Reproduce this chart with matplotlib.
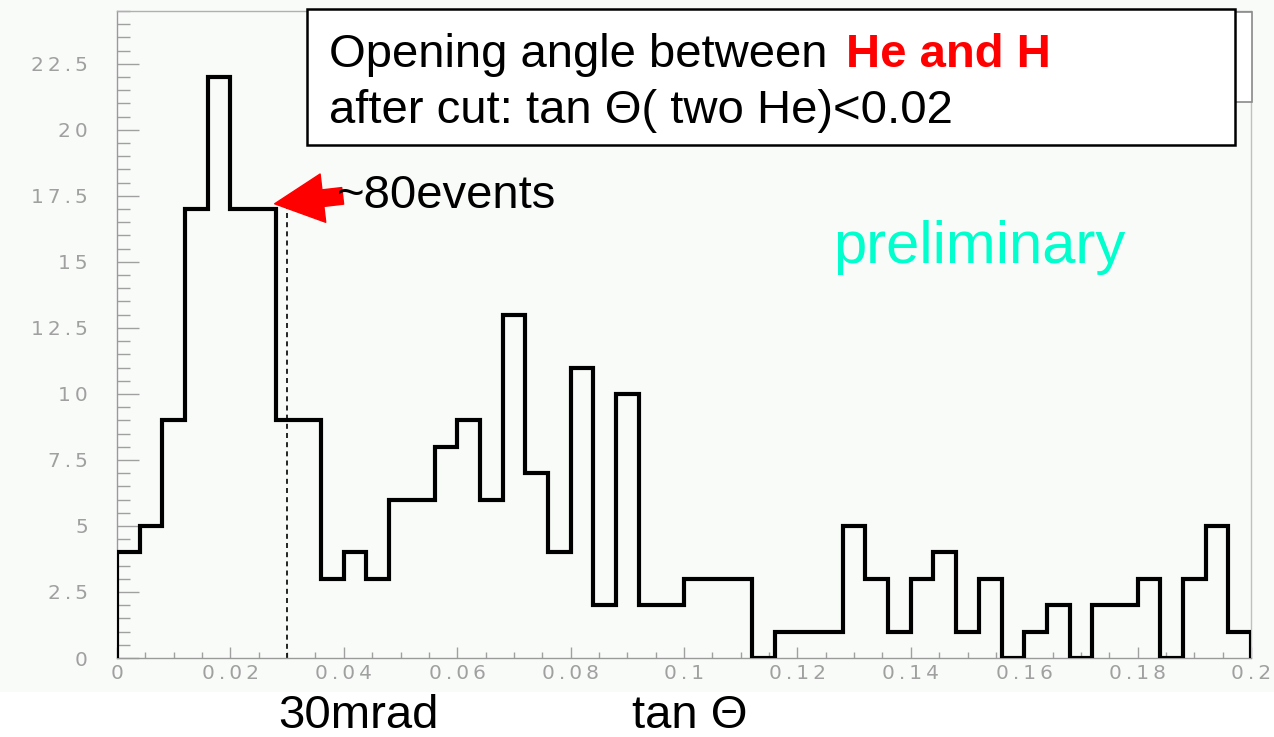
import numpy as np
import matplotlib
matplotlib.use("Agg")
import matplotlib.pyplot as plt
from matplotlib.patches import Rectangle, FancyArrowPatch, ArrowStyle
from matplotlib.ticker import MultipleLocator, FuncFormatter

W, H = 1274, 737          # canvas size in pixels
DPI = 100

# tan(theta) histogram: 50 bins over [0, 0.2]
x_lo, x_hi, n_bins = 0.0, 0.2, 50
counts = [4, 5, 9, 17, 22, 17, 17, 9, 9, 3,
          4, 3, 6, 6, 8, 9, 6, 13, 7, 4,
          11, 2, 10, 2, 2, 3, 3, 3, 0, 1,
          1, 1, 5, 3, 1, 3, 4, 1, 3, 0,
          1, 2, 0, 2, 2, 3, 0, 3, 5, 1]

# 30 mrad cut marker and the arrow pointing at it
cut_x, cut_top = 0.03, 17.2
arrow_tip = (0.0278, 17.2)
arrow_tail = (0.0398, 17.5)

title_black = "Opening angle between "
title_red = "He and H"
cut_text = "after cut: tan \u0398( two He)<0.02"
events_text = "~80events"
prelim_text = "preliminary"

FONT = ["Liberation Sans", "DejaVu Sans"]
TICK_GRAY = "#a0a0a0"


def px(x, y):
    """pixel position (from top-left) -> figure fraction"""
    return x / W, 1 - y / H


def spaced(v, pos):
    # ROOT style labels: loose letter spacing
    s = f"{v:g}"
    return "\u2009".join(s)


fig = plt.figure(figsize=(W / DPI, H / DPI), dpi=DPI, facecolor="white")
# pad canvas is a touch greyer than the page below it
fig.add_artist(Rectangle(px(0, 692), 1, 692 / H, transform=fig.transFigure,
                         facecolor="#f9fbf9", edgecolor="none", zorder=0))

l, r = 117, 1251
t, b = 11, 658
ax = fig.add_axes([l / W, 1 - b / H, (r - l) / W, (b - t) / H])
ax.set_facecolor("#f9fbf9")

edges = np.linspace(x_lo, x_hi, n_bins + 1)
ax.stairs(counts, edges, baseline=0, color="black", lw=3.0, zorder=3,
          joinstyle="miter")

ax.vlines(cut_x, 0, cut_top, colors="black", linestyles=(0, (3, 2.5)), lw=1.2, zorder=2)

arr = FancyArrowPatch(arrow_tail, arrow_tip,
                      arrowstyle=ArrowStyle.Simple(head_length=35, head_width=35, tail_width=12),
                      mutation_scale=1, color="red", shrinkA=0, shrinkB=0, zorder=5)
ax.add_patch(arr)

ax.set_xlim(x_lo, x_hi)
ax.set_ylim(0, 24.5)

for side in ("left", "bottom", "top", "right"):
    ax.spines[side].set_color("#9a9a9a")
    ax.spines[side].set_linewidth(1.0)
ax.spines["top"].set_color("#b0b0b0")
ax.spines["right"].set_color("#c0c0c0")

ax.xaxis.set_major_locator(MultipleLocator(0.02))
ax.xaxis.set_minor_locator(MultipleLocator(0.005))
ax.yaxis.set_major_locator(MultipleLocator(2.5))
ax.yaxis.set_minor_locator(MultipleLocator(0.5))
ax.xaxis.set_major_formatter(FuncFormatter(spaced))
ax.yaxis.set_major_formatter(FuncFormatter(spaced))

ax.tick_params(axis="x", which="major", direction="in", length=8, width=1,
               color=TICK_GRAY, labelcolor=TICK_GRAY, labelsize=14.5, pad=4)
ax.tick_params(axis="x", which="minor", direction="in", length=4.5, width=1, color=TICK_GRAY)
ax.tick_params(axis="y", which="major", direction="in", length=16, width=1,
               color=TICK_GRAY, labelcolor=TICK_GRAY, labelsize=14.5, pad=21)
ax.tick_params(axis="y", which="minor", direction="in", length=9, width=1, color=TICK_GRAY)
for lab in ax.get_xticklabels() + ax.get_yticklabels():
    lab.set_family("DejaVu Sans")

# stat box peeking out behind the caption
fig.add_artist(Rectangle(px(1000, 102), 252 / W, 90 / H, transform=fig.transFigure,
                         facecolor="white", edgecolor="#8a8a8a", lw=1.2, zorder=6))
# caption box
fig.add_artist(Rectangle(px(307, 145), 928 / W, 136 / H, transform=fig.transFigure,
                         facecolor="white", edgecolor="black", lw=1.8, zorder=7))

fs = 34
fig.text(*px(329, 67), title_black, fontsize=fs, family=FONT, va="baseline", zorder=8)
fig.text(*px(846, 67), title_red, fontsize=fs, family=FONT, weight="bold",
         color="#ff0000", va="baseline", zorder=8)
fig.text(*px(329, 123), cut_text, fontsize=fs, family=FONT, va="baseline", zorder=8)

fig.text(*px(337, 208), events_text, fontsize=fs, family=FONT, va="baseline", zorder=8)
fig.text(*px(833, 263), prelim_text, fontsize=43, family=FONT, color="#00ffcc",
         va="baseline", zorder=8)

fig.text(*px(278, 728), "30mrad", fontsize=fs, family=FONT, va="baseline")
fig.text(*px(632, 728), "tan \u0398", fontsize=fs, family=FONT, va="baseline")

fig.savefig("out.png", dpi=DPI, facecolor=fig.get_facecolor())
